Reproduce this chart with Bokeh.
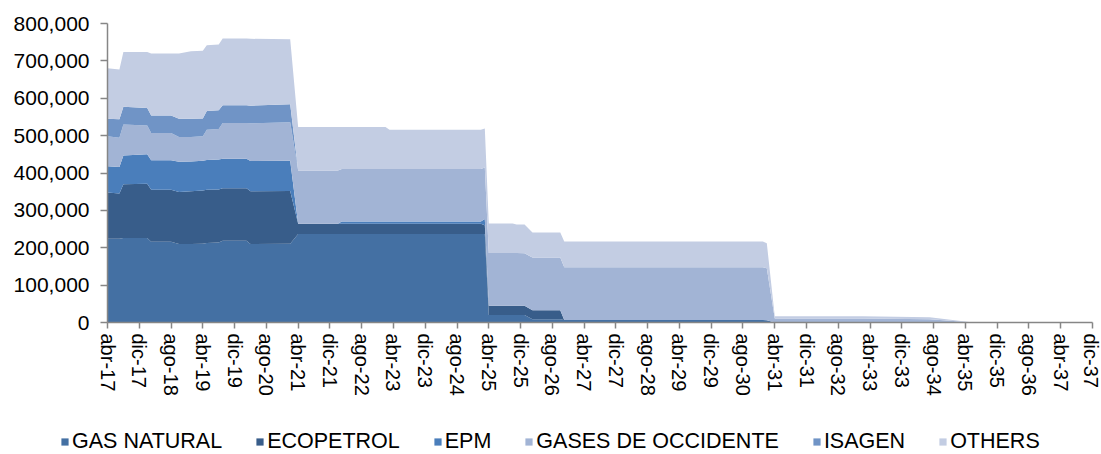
from bokeh.plotting import figure
from bokeh.layouts import column, row
from bokeh.models import (ColumnDataSource, FixedTicker, NumeralTickFormatter,
                          Legend, LegendItem, Range1d)
from bokeh.embed import file_html
from bokeh.resources import INLINE

# month index counted from abr-17
months = [0, 3, 4, 10, 11, 16, 18, 21, 24, 25, 28, 29, 35, 36, 46, 48, 58, 59,
          70, 71, 94, 95, 96, 102, 103, 105, 107, 114, 115, 165, 166, 168, 190,
          207, 218, 248]

gas_natural = [224000, 224000, 226000, 226000, 216000, 216000, 210000, 210000,
               211000, 213000, 214000, 219000, 219000, 210000, 211000, 237000,
               237000, 237000, 237000, 237000, 237000, 237000, 20000, 20000,
               20000, 20000, 9000, 9000, 7000, 7000, 6000, 0, 0, 0, 0, 0]
ecopetrol = [124000, 121000, 144000, 145000, 139000, 139000, 139000, 141000,
             142000, 142000, 142000, 140000, 140000, 141000, 141000, 27000,
             27000, 27000, 27000, 27000, 27000, 23000, 25000, 25000, 25000,
             25000, 24000, 24000, 0, 0, 0, 0, 0, 0, 0, 0]
epm = [70000, 71000, 77000, 79000, 79000, 79000, 81000, 80000, 80000, 80000,
       80000, 79000, 79000, 81000, 81000, 0, 0, 6000, 6000, 6000, 6000, 17000,
       0, 0, 0, 0, 0, 0, 0, 0, 0, 0, 0, 0, 0, 0]
gases_de_occidente = [80000, 78000, 83000, 77000, 73000, 73000, 66000, 65000,
                      65000, 81000, 82000, 96000, 96000, 101000, 103000, 143000,
                      143000, 141000, 141000, 141000, 141000, 138000, 141000,
                      141000, 141000, 140000, 141000, 141000, 141000, 141000,
                      139000, 11000, 11000, 9000, 0, 0]
isagen = [47000, 50000, 47000, 47000, 47000, 47000, 49000, 49000, 48000, 50000,
          50000, 47000, 47000, 47000, 48000, 0, 0, 0, 0, 0, 0, 0, 0, 0, 0, 0,
          0, 0, 0, 0, 0, 0, 0, 0, 0, 0]
others = [135000, 133000, 147000, 150000, 166000, 166000, 175000, 181000,
          181000, 176000, 176000, 179000, 179000, 179000, 174000, 116000,
          116000, 112000, 112000, 105000, 105000, 104000, 79000, 79000, 76000,
          77000, 67000, 67000, 69000, 69000, 67000, 6000, 6000, 5000, 0, 0]

series_names = ["GAS NATURAL", "ECOPETROL", "EPM", "GASES DE OCCIDENTE",
                "ISAGEN", "OTHERS"]
series_colors = ["#4470A3", "#385D8A", "#4A7EBB", "#A2B4D5", "#7094C6",
                 "#C3CDE3"]

tick_positions = list(range(0, 249, 8))
tick_labels = ["abr-17", "dic-17", "ago-18", "abr-19", "dic-19", "ago-20",
               "abr-21", "dic-21", "ago-22", "abr-23", "dic-23", "ago-24",
               "abr-25", "dic-25", "ago-26", "abr-27", "dic-27", "ago-28",
               "abr-29", "dic-29", "ago-30", "abr-31", "dic-31", "ago-32",
               "abr-33", "dic-33", "ago-34", "abr-35", "dic-35", "ago-36",
               "abr-37", "dic-37"]

keys = ["gas", "eco", "epm", "gases", "isagen", "others"]
source = ColumnDataSource(dict(x=months, gas=gas_natural, eco=ecopetrol,
                               epm=epm, gases=gases_de_occidente,
                               isagen=isagen, others=others))

p = figure(width=1101, height=400, output_backend="svg", toolbar_location=None,
           x_range=Range1d(0, 248), y_range=Range1d(0, 800000),
           min_border_left=107, min_border_right=9, min_border_top=23,
           min_border_bottom=78)

renderers = p.varea_stack(stackers=keys, x="x", color=series_colors,
                          source=source)

p.xgrid.visible = False
p.ygrid.visible = False
p.outline_line_color = None

axis_color = "#868686"
font = "Liberation Sans"

xa = p.xaxis[0]
xa.ticker = FixedTicker(ticks=tick_positions)
xa.major_label_overrides = {t: l for t, l in zip(tick_positions, tick_labels)}
xa.major_label_orientation = "vertical"
xa.axis_line_color = axis_color
xa.axis_line_width = 1.5
xa.major_tick_line_color = axis_color
xa.major_tick_line_width = 1.5
xa.major_tick_out = 6
xa.major_tick_in = 0
xa.minor_tick_line_color = None
xa.major_label_standoff = 5
xa.major_label_text_font = font
xa.major_label_text_font_size = "20px"
xa.major_label_text_color = "#000000"

ya = p.yaxis[0]
ya.ticker = FixedTicker(ticks=list(range(0, 800001, 100000)))
ya.formatter = NumeralTickFormatter(format="0,0")
ya.axis_line_color = axis_color
ya.axis_line_width = 1.5
ya.major_tick_line_color = axis_color
ya.major_tick_line_width = 1.5
ya.major_tick_out = 7
ya.major_tick_in = 0
ya.minor_tick_line_color = None
ya.major_label_standoff = 11
ya.major_label_text_font = font
ya.major_label_text_font_size = "21px"
ya.major_label_text_color = "#000000"

# legend strip below the chart
lg = figure(width=1101, height=54, output_backend="svg", toolbar_location=None,
            x_range=Range1d(0, 1), y_range=Range1d(0, 1),
            x_axis_type=None, y_axis_type=None,
            min_border_left=0, min_border_right=0, min_border_top=0,
            min_border_bottom=0)
lg.xgrid.visible = False
lg.ygrid.visible = False
lg.outline_line_color = None
proxies = [lg.varea(x=[0, 1], y1=[-5, -5], y2=[-5, -5], color=c)
           for c in series_colors]

legend = Legend(items=[LegendItem(label=n, renderers=[r])
                       for n, r in zip(series_names, proxies)],
                orientation="horizontal", location=(60, 0),
                background_fill_alpha=0, border_line_alpha=0,
                padding=0, margin=0, spacing=33,
                glyph_width=9, glyph_height=9, label_standoff=3,
                label_text_font=font, label_text_font_size="21.5px",
                label_text_color="#000000", label_height=20)
lg.add_layout(legend)

layout = column(p, row(lg), spacing=0)
open("out.html", "w").write(file_html(layout, INLINE))
